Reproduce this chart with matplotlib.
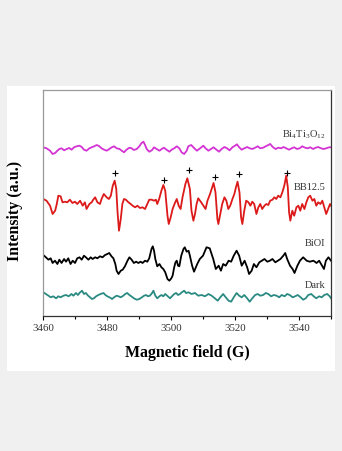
import numpy as np
import matplotlib
matplotlib.use('Agg')
import matplotlib.pyplot as plt
from matplotlib.patches import Rectangle

plt.rcParams['font.family'] = ['Liberation Serif', 'DejaVu Serif']
plt.rcParams['mathtext.fontset'] = 'custom'
plt.rcParams['mathtext.rm'] = 'Liberation Serif'

# Bi4Ti3O12 (magenta)
bto_field = [3460.1, 3461.1, 3462.2, 3463.0, 3463.8, 3464.5, 3465.1, 3465.8, 3466.6, 3467.4,
             3468.2, 3468.9, 3469.7, 3470.5, 3471.4, 3472.1, 3472.8, 3473.6, 3474.5, 3475.2,
             3476.0, 3476.8, 3477.6, 3478.3, 3479.1, 3479.9, 3480.7, 3481.5, 3482.2, 3483.0,
             3483.9, 3484.6, 3485.3, 3486.1, 3487.0, 3487.7, 3488.4, 3489.3, 3490.1, 3490.8,
             3491.4, 3491.9, 3492.4, 3493.2, 3494.0, 3494.7, 3495.5, 3496.4, 3497.1, 3497.8,
             3498.6, 3499.5, 3500.2, 3501.0, 3501.8, 3502.6, 3503.3, 3504.1, 3504.9, 3505.4,
             3506.3, 3507.3, 3508.1, 3509.1, 3510.1, 3510.8, 3511.7, 3512.5, 3513.3, 3514.2,
             3515.0, 3515.8, 3516.7, 3517.5, 3518.3, 3519.2, 3520.0, 3520.6, 3521.3, 3522.1,
             3522.9, 3523.8, 3524.6, 3525.4, 3526.3, 3527.1, 3527.9, 3528.8, 3529.6, 3530.4,
             3531.0, 3531.9, 3532.7, 3533.5, 3534.4, 3535.2, 3536.0, 3536.9, 3537.7, 3538.5,
             3539.4, 3540.2, 3541.0, 3541.9, 3542.7, 3543.5, 3544.4, 3545.2, 3546.0, 3546.9,
             3547.7, 3548.5, 3549.4, 3550.0]
bto_int = [168.7, 167.7, 165.3, 162.0, 163.0, 165.3, 167.0, 167.7, 165.7, 167.0,
           168.0, 166.3, 168.7, 169.7, 170.3, 169.0, 166.3, 165.3, 167.7, 168.7,
           169.7, 171.0, 169.7, 167.7, 166.3, 165.3, 167.0, 168.7, 169.7, 167.7,
           167.0, 165.3, 163.7, 166.3, 168.3, 167.7, 166.0, 167.0, 169.7, 173.0,
           174.3, 171.0, 167.0, 164.3, 165.7, 168.7, 167.0, 165.3, 167.0, 168.3,
           166.3, 164.3, 166.3, 167.7, 169.7, 167.7, 163.7, 162.0, 165.3, 169.7,
           171.0, 167.7, 165.3, 167.7, 170.3, 167.7, 165.3, 167.0, 168.7, 166.3,
           164.3, 167.0, 169.0, 167.7, 165.7, 168.7, 170.3, 171.7, 168.7, 166.3,
           167.7, 169.0, 167.7, 167.0, 168.3, 169.7, 167.7, 168.3, 169.7, 171.0,
           172.0, 168.7, 167.0, 168.3, 167.7, 169.0, 167.7, 166.3, 167.7, 168.7,
           167.0, 167.7, 169.7, 168.3, 167.7, 168.7, 167.0, 168.3, 169.0, 167.7,
           167.0, 167.7, 168.7, 168.7]

# BB12.5 (red)
bb_field = [3460.1, 3461.1, 3462.2, 3463.0, 3463.8, 3464.3, 3464.8, 3465.5, 3466.1, 3466.9,
            3467.6, 3468.4, 3469.2, 3470.0, 3470.7, 3471.6, 3472.4, 3473.1, 3473.6, 3474.5,
            3475.2, 3475.7, 3476.3, 3477.0, 3477.8, 3478.3, 3479.0, 3479.9, 3480.6, 3481.2,
            3481.8, 3482.4, 3482.9, 3483.3, 3483.75, 3484.3, 3484.8, 3485.3, 3485.9, 3486.7,
            3487.4, 3488.0, 3488.8, 3489.5, 3490.3, 3491.1, 3491.9, 3492.6, 3493.2, 3494.0,
            3494.7, 3495.3, 3495.7, 3496.3, 3497.0, 3497.6, 3498.2, 3498.9, 3499.3, 3499.9,
            3500.5, 3501.1, 3501.8, 3502.4, 3503.0, 3503.6, 3504.5, 3505.1, 3505.9, 3506.4,
            3507.0, 3507.5, 3508.0, 3508.5, 3509.3, 3510.1, 3510.8, 3511.4, 3512.2, 3512.7,
            3513.3, 3513.9, 3514.5, 3514.8, 3515.4, 3516.0, 3516.7, 3517.3, 3517.9, 3518.5,
            3519.2, 3519.8, 3520.3, 3520.8, 3521.4, 3521.9, 3522.3, 3522.9, 3523.5, 3524.2,
            3524.8, 3525.4, 3526.0, 3526.7, 3527.3, 3527.9, 3528.5, 3529.2, 3529.8, 3530.4,
            3531.0, 3531.7, 3532.3, 3532.9, 3533.5, 3534.2, 3534.8, 3535.4, 3536.0, 3536.5,
            3536.9, 3537.3, 3537.9, 3538.5, 3539.2, 3539.8, 3540.4, 3541.0, 3541.7, 3542.3,
            3542.9, 3543.5, 3544.2, 3544.8, 3545.4, 3546.0, 3546.7, 3547.3, 3547.9, 3548.5,
            3549.1, 3549.7, 3550.0]
bb_int = [117.0, 115.3, 110.3, 102.0, 105.3, 112.0, 120.3, 119.7, 113.7, 114.3,
          113.7, 116.3, 113.0, 114.3, 112.0, 115.3, 110.3, 113.7, 107.0, 112.0,
          113.7, 116.3, 118.7, 113.7, 112.0, 117.0, 122.0, 118.7, 117.0, 120.3,
          130.3, 135.3, 127.0, 103.7, 85.3, 97.0, 112.0, 117.0, 116.3, 113.7,
          112.0, 110.3, 108.7, 110.3, 108.0, 108.7, 107.0, 112.0, 116.3, 116.3,
          115.3, 116.3, 112.0, 117.0, 125.3, 131.0, 125.3, 100.3, 92.0, 98.7,
          107.0, 112.0, 117.0, 110.3, 107.0, 118.7, 132.0, 137.7, 127.0, 105.3,
          95.3, 102.0, 112.0, 117.7, 114.3, 110.3, 107.0, 115.3, 122.0, 127.0,
          133.0, 123.7, 97.0, 92.0, 102.0, 112.0, 118.7, 115.3, 107.0, 110.3,
          117.0, 122.0, 128.7, 134.3, 123.7, 98.7, 92.0, 105.3, 115.3, 113.7,
          110.3, 114.3, 112.0, 102.0, 108.7, 112.0, 107.0, 110.3, 112.0, 111.0,
          115.3, 116.3, 118.7, 117.0, 120.3, 118.7, 123.7, 130.3, 140.3, 128.7,
          103.7, 95.3, 105.3, 100.3, 108.7, 110.3, 105.3, 112.0, 107.0, 113.7,
          118.7, 120.3, 115.3, 117.0, 110.3, 113.7, 112.0, 115.3, 108.7, 102.0,
          107.0, 112.0, 110.3]

# BiOI (black)
bioi_field = [3460.1, 3460.9, 3461.7, 3462.4, 3463.0, 3463.75, 3464.5, 3465.1, 3465.8, 3466.6,
              3467.2, 3467.9, 3468.6, 3469.3, 3470.0, 3470.7, 3471.4, 3472.1, 3472.8, 3473.4,
              3474.2, 3474.9, 3475.5, 3476.3, 3477.0, 3477.8, 3478.6, 3479.4, 3480.1, 3480.7,
              3481.4, 3482.0, 3482.6, 3483.0, 3483.6, 3484.3, 3484.9, 3485.6, 3486.4, 3487.0,
              3487.7, 3488.4, 3489.1, 3489.8, 3490.5, 3491.1, 3491.9, 3492.6, 3493.2, 3493.9,
              3494.3, 3494.7, 3495.1, 3495.7, 3496.4, 3497.0, 3497.6, 3498.2, 3498.9, 3499.5,
              3500.1, 3500.5, 3501.0, 3501.4, 3501.8, 3502.2, 3502.6, 3503.2, 3503.9, 3504.3,
              3504.9, 3505.5, 3505.9, 3506.6, 3507.2, 3508.2, 3509.0, 3510.0, 3511.1, 3512.1,
              3513.2, 3514.0, 3514.9, 3515.6, 3516.3, 3517.1, 3518.0, 3518.8, 3519.6, 3520.5,
              3521.3, 3522.1, 3523.0, 3523.8, 3524.4, 3525.2, 3525.9, 3526.7, 3527.6, 3528.4,
              3529.2, 3530.1, 3530.9, 3531.7, 3532.6, 3533.4, 3534.2, 3535.1, 3535.7, 3536.3,
              3537.2, 3538.0, 3538.6, 3539.5, 3540.3, 3541.3, 3542.4, 3543.4, 3544.5, 3545.5,
              3546.3, 3547.2, 3547.8, 3548.4, 3549.2, 3550.0]
bioi_int = [61.0, 58.7, 56.3, 57.7, 53.0, 55.3, 52.0, 56.3, 53.0, 57.0,
            54.3, 57.7, 52.0, 55.3, 53.0, 57.7, 58.7, 56.3, 60.3, 58.7,
            56.3, 58.7, 57.0, 58.7, 57.7, 59.7, 58.7, 61.0, 62.0, 63.0,
            59.7, 57.7, 52.0, 45.3, 42.0, 45.3, 46.3, 49.7, 55.3, 58.7,
            56.3, 53.0, 54.3, 53.0, 54.3, 53.0, 55.3, 54.3, 57.7, 67.0,
            69.7, 65.3, 57.0, 49.7, 52.0, 48.7, 47.0, 43.7, 37.0, 35.3,
            37.7, 40.3, 48.7, 53.7, 55.3, 50.3, 49.7, 60.3, 67.0, 68.7,
            64.3, 65.3, 60.3, 50.3, 44.3, 52.0, 57.0, 60.3, 68.7, 67.7,
            57.0, 47.0, 50.3, 45.3, 52.0, 50.3, 55.3, 54.3, 60.3, 65.3,
            60.3, 50.3, 55.3, 48.7, 42.0, 45.3, 52.0, 48.7, 53.7, 55.3,
            57.0, 54.3, 55.3, 57.0, 53.7, 55.3, 57.0, 60.3, 63.0, 57.0,
            50.3, 47.0, 43.0, 50.3, 55.3, 58.7, 55.3, 54.3, 55.3, 53.0,
            55.3, 50.3, 47.0, 55.3, 58.7, 55.3]

# Dark (teal)
dark_field = [3460.1, 3460.9, 3461.7, 3462.4, 3463.2, 3464.1, 3464.8, 3465.5, 3466.4, 3467.2,
              3468.0, 3468.9, 3469.5, 3470.3, 3470.9, 3471.6, 3472.2, 3472.8, 3473.4, 3474.1,
              3474.7, 3475.3, 3475.9, 3476.6, 3477.3, 3478.0, 3478.9, 3479.5, 3480.1, 3481.0,
              3481.6, 3482.2, 3483.0, 3483.6, 3484.3, 3485.1, 3485.7, 3486.3, 3487.0, 3487.6,
              3488.4, 3489.3, 3490.1, 3490.9, 3491.6, 3492.2, 3492.8, 3493.4, 3494.1, 3494.5,
              3495.1, 3495.7, 3496.4, 3497.0, 3497.6, 3498.2, 3498.8, 3499.7, 3500.3, 3501.0,
              3501.6, 3502.2, 3502.8, 3503.4, 3504.1, 3504.7, 3505.5, 3506.4, 3507.5, 3508.5,
              3509.6, 3510.6, 3511.7, 3512.7, 3513.7, 3514.6, 3515.4, 3516.3, 3517.1, 3518.0,
              3518.8, 3519.6, 3520.5, 3521.3, 3522.1, 3522.9, 3523.8, 3524.6, 3525.4, 3526.3,
              3527.1, 3527.9, 3528.8, 3529.6, 3530.4, 3531.3, 3532.1, 3533.0, 3533.8, 3534.6,
              3535.5, 3536.3, 3537.1, 3538.0, 3538.8, 3539.6, 3540.5, 3541.3, 3542.1, 3542.9,
              3543.8, 3544.6, 3545.4, 3546.3, 3547.1, 3547.9, 3548.8, 3549.6, 3550.0]
dark_int = [23.7, 22.0, 20.3, 18.7, 19.7, 17.7, 19.7, 18.7, 20.3, 21.0,
            19.7, 22.0, 20.3, 23.0, 21.0, 23.7, 25.3, 22.0, 23.0, 20.3,
            18.7, 17.0, 17.7, 19.7, 21.0, 22.0, 23.0, 21.0, 19.7, 18.3,
            17.0, 18.7, 20.3, 19.7, 18.7, 20.3, 22.0, 23.0, 21.0, 19.7,
            17.7, 16.3, 17.0, 18.7, 20.3, 21.0, 19.7, 20.3, 23.0, 25.3,
            20.3, 17.7, 19.7, 21.0, 19.7, 22.0, 20.3, 17.7, 19.7, 22.0,
            23.0, 21.0, 22.0, 23.7, 25.3, 23.0, 23.7, 22.0, 23.0, 20.3,
            21.0, 19.7, 22.0, 20.3, 17.7, 15.3, 18.7, 22.0, 18.7, 15.3,
            14.3, 18.7, 23.0, 20.3, 18.7, 21.0, 17.7, 14.3, 17.7, 21.0,
            22.0, 20.3, 21.0, 23.0, 22.0, 19.7, 21.0, 20.3, 18.7, 21.0,
            19.7, 22.0, 21.0, 18.7, 19.7, 21.0, 18.7, 16.3, 17.7, 21.0,
            22.0, 19.7, 17.7, 19.7, 18.7, 21.0, 22.0, 19.7, 17.7]

# hyperfine marks on BB12.5
plus_field = [3482.5, 3497.8, 3505.5, 3513.7, 3521.3, 3536.3]
plus_int = [143, 136, 146, 139, 142, 143]

labels = [r'Bi$_4$Ti$_3$O$_{12}$', 'BB12.5', 'BiOI', 'Dark']
label_int = [182, 129, 74, 32]

fig = plt.figure(figsize=(3.42, 4.52), dpi=100, facecolor='#f0f0f0')
# white panel behind the chart
fig.patches.append(Rectangle((7 / 342, 1 - 372 / 452), 328 / 342, 285 / 452,
                             transform=fig.transFigure, facecolor='white',
                             edgecolor='none', zorder=-10))
ax = fig.add_axes([43 / 342, 1 - 317 / 452, 288 / 342, 226 / 452])
ax.set_zorder(5)
ax.set_facecolor('white')

ax.plot(bto_field, bto_int, color='#D433D4', lw=1.3)
ax.plot(bb_field, bb_int, color='#DD1A1A', lw=1.3)
ax.plot(bioi_field, bioi_int, color='black', lw=1.3)
ax.plot(dark_field, dark_int, color='#2A8A82', lw=1.3)
ax.scatter(plus_field, plus_int, marker='+', color='black', s=18, linewidths=0.8)

for lab, yv in zip(labels, label_int):
    ax.text(3548.3, yv, lab, ha='right', va='center', fontsize=7.5, color='#333333')

ax.set_xlim(3460, 3550)
ax.set_ylim(0, 226)
ax.set_xticks(np.arange(3460, 3551, 20))
ax.set_xticks(np.arange(3470, 3551, 20), minor=True)
ax.set_yticks([])
ax.tick_params(axis='x', which='major', direction='out', length=3, width=0.8,
               labelsize=7.8, labelcolor='#333333', pad=2)
ax.tick_params(axis='x', which='minor', direction='out', length=2.5, width=0.8)
for side in ['left', 'top']:
    ax.spines[side].set_color('#999999')
for side in ['right', 'bottom']:
    ax.spines[side].set_color('#333333')
for s in ax.spines.values():
    s.set_linewidth(0.9)

ax.set_xlabel('Magnetic field (G)', fontsize=11.4, fontweight='bold', labelpad=9)
ax.set_ylabel('Intensity (a.u.)', fontsize=11.4, fontweight='bold')
ax.yaxis.set_label_coords(-0.069, 0.47)

fig.savefig('out.png', dpi=100, facecolor=fig.get_facecolor())
